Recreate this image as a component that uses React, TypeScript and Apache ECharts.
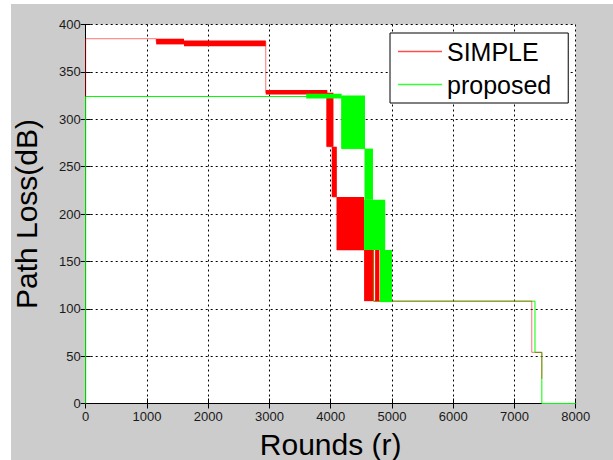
import React, { useEffect, useRef } from "react";
import * as echarts from "echarts";

// Rounds axis and path-loss axis ranges
const roundsRange = [0, 8000];
const lossRange = [0, 400];

// Step paths of the two protocols: [round, path loss (dB)]
const simplePath: [number, number][] = [
  [0, 324], [0, 385], [1150, 385], [1150, 382], [2940, 382], [2940, 328],
  [3940, 328], [3940, 271], [4030, 271], [4030, 218], [4100, 218], [4100, 162],
  [4700, 162], [4700, 108], [7283, 108], [7283, 54], [7447, 54], [7447, 26],
];
const proposedPath: [number, number][] = [
  [0, 0], [0, 324], [4180, 324], [4180, 269], [4560, 269], [4560, 162],
  [4700, 162], [4700, 108], [7335, 108], [7335, 54], [7447, 54], [7447, 0],
  [8000, 0],
];

// Spans where the path loss flickers quickly between two levels:
// [round from, round to, low dB, high dB]
const simpleSpread: [number, number, number, number][] = [
  [1150, 1605, 379, 385],
  [1605, 2940, 377, 383],
  [2940, 3945, 326, 331],
  [3930, 4045, 271, 328],
  [4017, 4100, 218, 271],
  [4100, 4545, 162, 218],
  [4545, 4690, 108, 162],
  [4725, 4795, 108, 162],
];
const proposedSpread: [number, number, number, number][] = [
  [3600, 4180, 322, 327],
  [4180, 4560, 269, 325],
  [4560, 4690, 215, 269],
  [4545, 4890, 162, 215],
  [4805, 5000, 107, 162],
];

const RED = "#ff0000";
const GREEN = "#00ff00";
const FONT = "'Liberation Sans', Arial, Helvetica, sans-serif";

function spreadSeries(name: string, data: number[][], color: string, z: number) {
  return {
    type: "custom",
    name,
    z,
    data,
    encode: { x: [0, 1], y: [2, 3] },
    renderItem: (_params: any, api: any) => {
      const a = api.coord([api.value(0), api.value(3)]);
      const b = api.coord([api.value(1), api.value(2)]);
      return {
        type: "rect",
        shape: { x: a[0], y: a[1], width: b[0] - a[0], height: b[1] - a[1] },
        style: { fill: color },
      };
    },
  };
}

export default function App() {
  const ref = useRef<HTMLDivElement>(null);

  useEffect(() => {
    if (!ref.current) return;
    const chart = echarts.init(ref.current, null, { renderer: "svg" });

    const tickStyle = { inside: true, length: 5, lineStyle: { color: "#000" } };
    const axisLine = { show: true, lineStyle: { color: "#000", width: 1 } };
    const gridLine = { show: true, lineStyle: { color: "#000", type: [2, 3], width: 1 } };
    const labelStyle = {
      color: "#1a1a1a",
      fontSize: 13,
      fontFamily: FONT,
      formatter: (v: number) => String(v),
    };

    chart.setOption({
      animation: false,
      backgroundColor: "#cccccc",
      grid: {
        left: 74.7,
        top: 20.5,
        right: 37.3,
        bottom: 56.5,
        outerBoundsMode: "none",
        containLabel: false,
        show: true,
        backgroundColor: "#ffffff",
        borderWidth: 0,
      },
      legend: {
        left: 379,
        top: 29,
        orient: "vertical",
        backgroundColor: "#ffffff",
        borderColor: "#000",
        borderWidth: 1,
        borderRadius: 0,
        padding: [6, 17, 6, 8],
        itemGap: 8,
        itemWidth: 44,
        itemHeight: 1.5,
        textStyle: { fontSize: 25, lineHeight: 25, fontFamily: FONT, color: "#000" },
        data: [
          { name: "SIMPLE", icon: "rect", itemStyle: { color: RED, opacity: 0.7 } },
          { name: "proposed", icon: "rect", itemStyle: { color: GREEN, opacity: 0.8 } },
        ],
      },
      xAxis: [
        {
          type: "value",
          min: roundsRange[0],
          max: roundsRange[1],
          interval: 1000,
          name: "Rounds (r)",
          nameLocation: "middle",
          nameGap: 26,
          nameTextStyle: { fontSize: 30, fontFamily: FONT, color: "#000" },
          axisLine,
          axisTick: tickStyle,
          axisLabel: { ...labelStyle, margin: 6 },
          splitLine: gridLine,
        },
        {
          type: "value",
          position: "top",
          min: roundsRange[0],
          max: roundsRange[1],
          interval: 1000,
          axisLine,
          axisTick: tickStyle,
          axisLabel: { show: false },
          splitLine: { show: false },
        },
      ],
      yAxis: [
        {
          type: "value",
          min: lossRange[0],
          max: lossRange[1],
          interval: 50,
          name: "Path Loss(dB)",
          nameLocation: "middle",
          nameGap: 44,
          nameTextStyle: { fontSize: 30, fontFamily: FONT, color: "#000" },
          axisLine,
          axisTick: tickStyle,
          axisLabel: { ...labelStyle, margin: 5 },
          splitLine: gridLine,
        },
        {
          type: "value",
          position: "right",
          min: lossRange[0],
          max: lossRange[1],
          interval: 50,
          axisLine,
          axisTick: tickStyle,
          axisLabel: { show: false },
          splitLine: { show: false },
        },
      ],
      series: [
        {
          type: "line",
          name: "proposed",
          data: proposedPath,
          z: 3,
          symbol: "none",
          showSymbol: false,
          lineStyle: { color: GREEN, width: 1 },
          itemStyle: { color: GREEN },
        },
        {
          type: "line",
          name: "SIMPLE",
          data: simplePath,
          z: 4,
          symbol: "none",
          showSymbol: false,
          lineStyle: { color: RED, width: 1, opacity: 0.55 },
          itemStyle: { color: RED },
        },
        spreadSeries("SIMPLE spread", simpleSpread, RED, 5),
        spreadSeries("proposed spread", proposedSpread, GREEN, 6),
      ],
    });

    return () => chart.dispose();
  }, []);

  return (
    <div
      style={{
        position: "fixed",
        left: 0,
        top: 0,
        width: 613,
        height: 460,
        background: "#ffffff",
      }}
    >
      <div
        ref={ref}
        style={{ position: "absolute", left: 11, top: 4, width: 602, height: 456 }}
      />
    </div>
  );
}
